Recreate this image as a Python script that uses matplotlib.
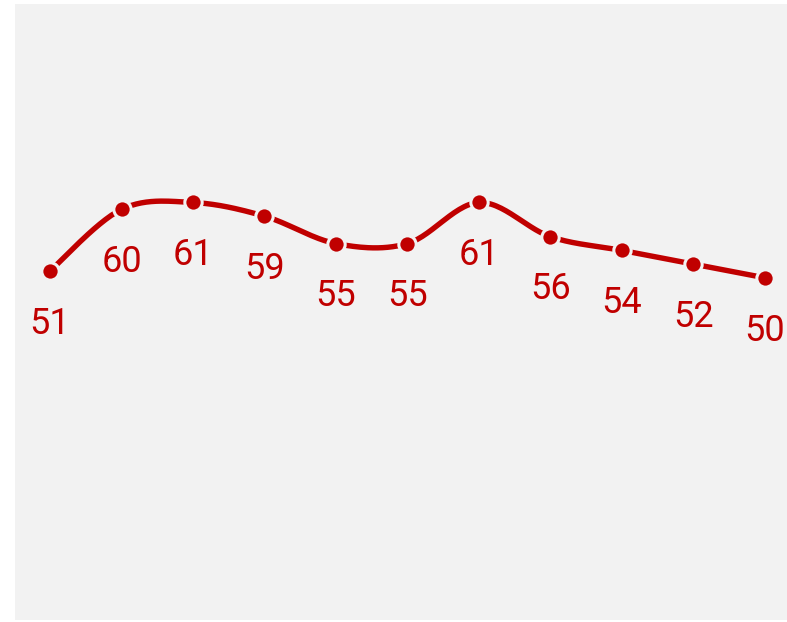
import matplotlib.pyplot as plt
import numpy as np

values = [51, 60, 61, 59, 55, 55, 61, 56, 54, 52, 50]
labels = [str(v) for v in values]

red = "#c00000"
bg = "#f2f2f2"


def catmull_rom(xs, ys, n=30, tension=0.5):
    # smooth curve through the points
    xs = np.asarray(xs, float)
    ys = np.asarray(ys, float)
    px = np.concatenate([[xs[0]], xs, [xs[-1]]])
    py = np.concatenate([[ys[0]], ys, [ys[-1]]])
    cx, cy = [], []
    for i in range(1, len(px) - 2):
        t = np.linspace(0, 1, n)
        m1x = (px[i + 1] - px[i - 1]) * tension
        m1y = (py[i + 1] - py[i - 1]) * tension
        m2x = (px[i + 2] - px[i]) * tension
        m2y = (py[i + 2] - py[i]) * tension
        h00 = 2 * t**3 - 3 * t**2 + 1
        h10 = t**3 - 2 * t**2 + t
        h01 = -2 * t**3 + 3 * t**2
        h11 = t**3 - t**2
        cx.append(h00 * px[i] + h10 * m1x + h01 * px[i + 1] + h11 * m2x)
        cy.append(h00 * py[i] + h10 * m1y + h01 * py[i + 1] + h11 * m2y)
    return np.concatenate(cx), np.concatenate(cy)


x = np.arange(len(values))
sx, sy = catmull_rom(x, values)

fig = plt.figure(figsize=(7.87, 6.22), dpi=100)
ax = fig.add_axes([15 / 787, 2 / 622, 772 / 787, 616 / 622])
ax.set_facecolor(bg)

ax.plot(sx, sy, color=red, linewidth=3.9, solid_capstyle="butt", zorder=2)
ax.plot(x, values, "o", color=red, markersize=12.5, markeredgecolor=bg,
        markeredgewidth=2.2, zorder=3)

for xi, v, lab in zip(x, values, labels):
    ax.annotate(lab, (xi, v), textcoords="offset points", xytext=(0, -38),
                ha="center", va="center", fontsize=26, color=red,
                family="Roboto", annotation_clip=False)

ax.set_xlim(-0.49, 10.31)
ax.set_ylim(0, 90)
ax.set_xticks([])
ax.set_yticks([])
for s in ax.spines.values():
    s.set_visible(False)

fig.savefig("out.png", dpi=100)
